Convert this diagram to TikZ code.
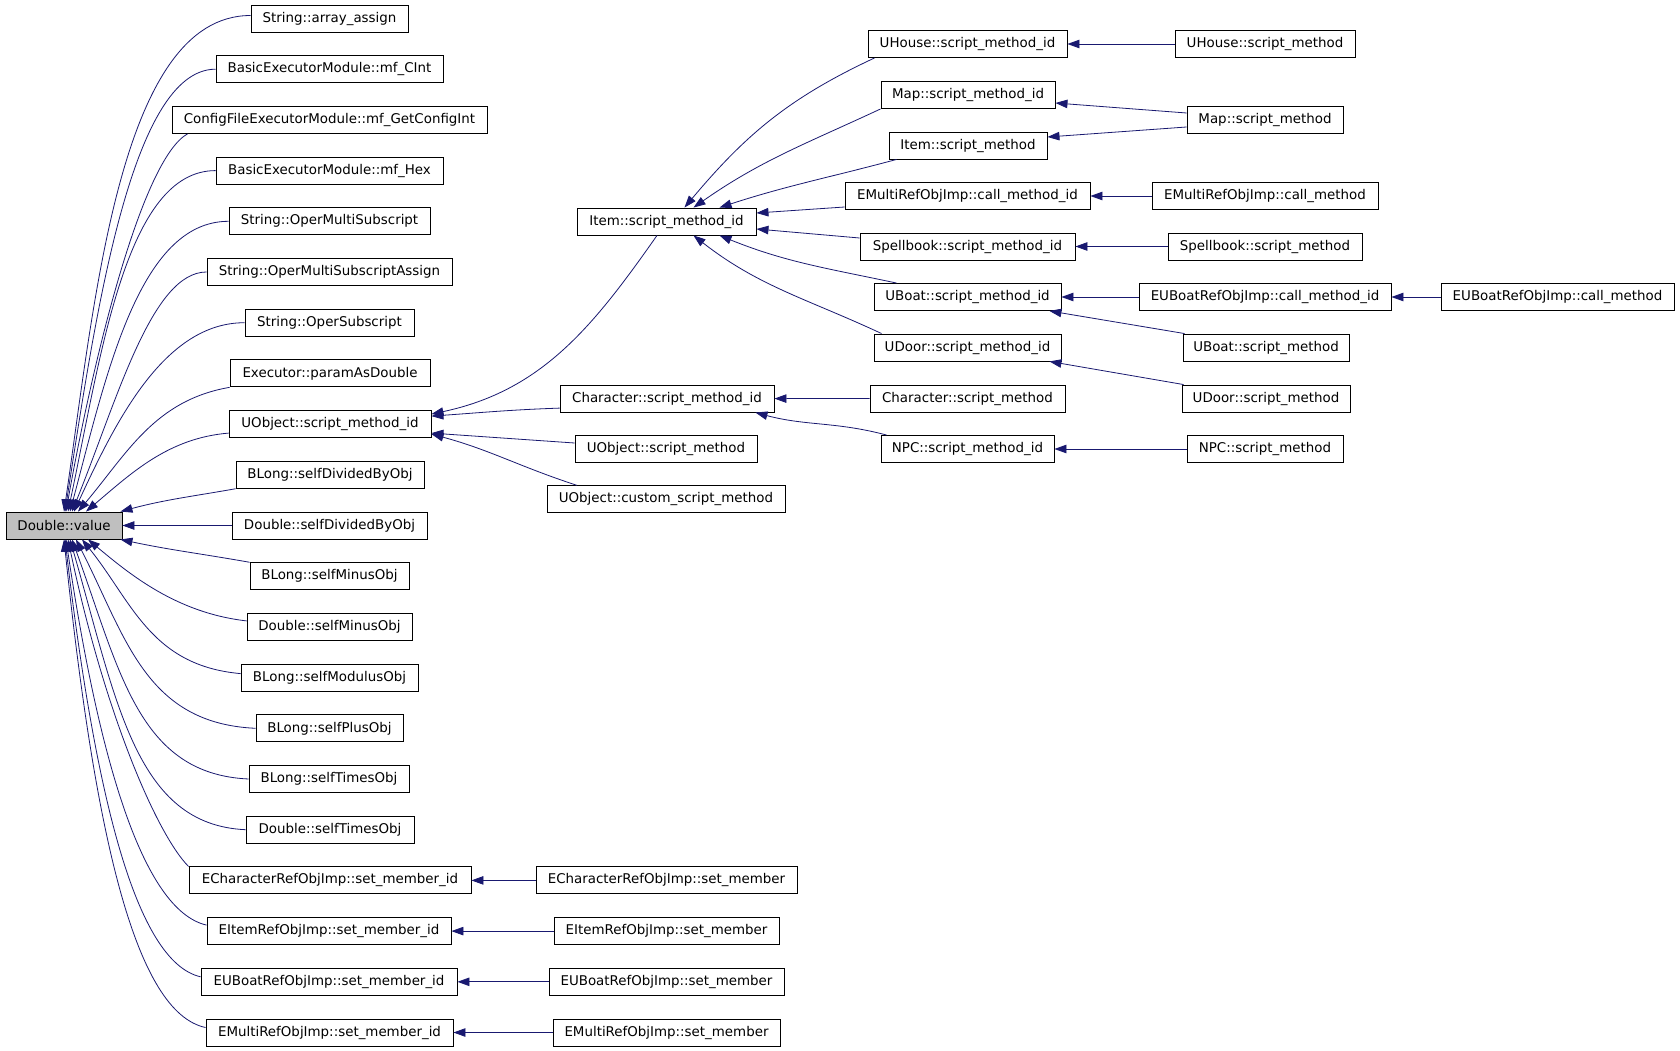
\documentclass[tikz,border=0pt]{standalone}
\usepackage{fontspec}
\setmainfont{DejaVu Sans}
\usetikzlibrary{arrows.meta}
\definecolor{edgeblue}{HTML}{191970}
\definecolor{dvgray}{HTML}{BFBFBF}
\begin{document}
\begin{tikzpicture}[x=1pt,y=-1pt,
  box/.style={draw=black, line width=0.9pt, fill=white, minimum height=27pt, inner sep=0pt,
    font=\fontsize{13.4}{16}\selectfont},
  edge/.style={draw=edgeblue, line width=0.8pt, -{Triangle[length=12pt,width=8.5pt]}}]
\useasboundingbox[fill=white] (0,0) rectangle (1680,1051);

% root
\node[box, fill=dvgray, minimum width=116] (dv) at (64,525.5) {Double::value};

% column 1
\node[box, minimum width=157] (a0) at (329.5,18.5) {String::array\_assign};
\node[box, minimum width=227] (a1) at (329.5,69.2) {BasicExecutorModule::mf\_CInt};
\node[box, minimum width=315] (a2) at (329.5,119.9) {ConfigFileExecutorModule::mf\_GetConfigInt};
\node[box, minimum width=227] (a3) at (329.5,170.6) {BasicExecutorModule::mf\_Hex};
\node[box, minimum width=201] (a4) at (329.5,221.3) {String::OperMultiSubscript};
\node[box, minimum width=245] (a5) at (329.5,272.0) {String::OperMultiSubscriptAssign};
\node[box, minimum width=169] (a6) at (329.5,322.7) {String::OperSubscript};
\node[box, minimum width=200] (a7) at (330,373.4) {Executor::paramAsDouble};
\node[box, minimum width=202] (a8) at (330,424.1) {UObject::script\_method\_id};
\node[box, minimum width=188] (a9) at (330,474.8) {BLong::selfDividedByObj};
\node[box, minimum width=195] (a10) at (329.5,525.5) {Double::selfDividedByObj};
\node[box, minimum width=159] (a11) at (329.5,576.2) {BLong::selfMinusObj};
\node[box, minimum width=165] (a12) at (329.5,626.9) {Double::selfMinusObj};
\node[box, minimum width=177] (a13) at (329.5,677.6) {BLong::selfModulusObj};
\node[box, minimum width=147] (a14) at (329.5,728.3) {BLong::selfPlusObj};
\node[box, minimum width=160] (a15) at (329,779.0) {BLong::selfTimesObj};
\node[box, minimum width=168] (a16) at (330,829.7) {Double::selfTimesObj};
\node[box, minimum width=282] (a17) at (330,880.4) {ECharacterRefObjImp::set\_member\_id};
\node[box, minimum width=244] (a18) at (329,931.1) {EItemRefObjImp::set\_member\_id};
\node[box, minimum width=256] (a19) at (329,981.8) {EUBoatRefObjImp::set\_member\_id};
\node[box, minimum width=247] (a20) at (329.5,1032.5) {EMultiRefObjImp::set\_member\_id};

% column 2
\node[box, minimum width=179] (bitem) at (666.5,221.5) {Item::script\_method\_id};
\node[box, minimum width=214] (bch) at (667,398.6) {Character::script\_method\_id};
\node[box, minimum width=182] (busm) at (666,449) {UObject::script\_method};
\node[box, minimum width=238] (bcust) at (666,499.3) {UObject::custom\_script\_method};
\node[box, minimum width=261] (becs) at (666.5,880.4) {ECharacterRefObjImp::set\_member};
\node[box, minimum width=225] (beis) at (666.5,931.1) {EItemRefObjImp::set\_member};
\node[box, minimum width=235] (beus) at (666.5,981.8) {EUBoatRefObjImp::set\_member};
\node[box, minimum width=227] (bems) at (666.5,1032.5) {EMultiRefObjImp::set\_member};

% column 3
\node[box, minimum width=199] (cuh) at (967.5,44) {UHouse::script\_method\_id};
\node[box, minimum width=174] (cmap) at (968,95) {Map::script\_method\_id};
\node[box, minimum width=158] (cism) at (968,145.5) {Item::script\_method};
\node[box, minimum width=245] (cemc) at (967.5,196) {EMultiRefObjImp::call\_method\_id};
\node[box, minimum width=215] (csp) at (967.5,246.5) {Spellbook::script\_method\_id};
\node[box, minimum width=187] (cub) at (967.5,297) {UBoat::script\_method\_id};
\node[box, minimum width=187] (cud) at (967.5,347.5) {UDoor::script\_method\_id};
\node[box, minimum width=195] (cchs) at (967.5,398.5) {Character::script\_method};
\node[box, minimum width=173] (cnpc) at (967.5,449) {NPC::script\_method\_id};

% column 4
\node[box, minimum width=180] (duh) at (1265,44) {UHouse::script\_method};
\node[box, minimum width=156] (dmap) at (1265,120) {Map::script\_method};
\node[box, minimum width=226] (demc) at (1265,196) {EMultiRefObjImp::call\_method};
\node[box, minimum width=194] (dsp) at (1265,246.5) {Spellbook::script\_method};
\node[box, minimum width=252] (deubc) at (1265,297) {EUBoatRefObjImp::call\_method\_id};
\node[box, minimum width=166] (dub) at (1266,347.5) {UBoat::script\_method};
\node[box, minimum width=168] (dud) at (1266,398.5) {UDoor::script\_method};
\node[box, minimum width=156] (dnpc) at (1265,449) {NPC::script\_method};

% column 5
\node[box, minimum width=233] (eeub) at (1557.5,297) {EUBoatRefObjImp::call\_method};

% edges into Double::value (top side)
\draw[edge] ([yshift=3pt]a0.west) .. controls +(-131,0) and +(31,-212) .. (dv.north);
\draw[edge] (a1.west) .. controls +(-85,0) and +(30,-193) .. ([xshift=1pt]dv.north);
\draw[edge] ([xshift=16pt]a2.south west) .. controls +(-45,25) and +(28,-158) .. ([xshift=2pt]dv.north);
\draw[edge] (a3.west) .. controls +(-90,0) and +(33,-156) .. ([xshift=4pt]dv.north);
\draw[edge] (a4.west) .. controls +(-90,0) and +(36,-135) .. ([xshift=6pt]dv.north);
\draw[edge] (a5.west) .. controls +(-55,0) and +(45,-111) .. ([xshift=8pt]dv.north);
\draw[edge] (a6.west) .. controls +(-80,0) and +(42,-91) .. ([xshift=10pt]dv.north);
\draw[edge] (a7.south west) .. controls +(-75,13) and +(49,-58) .. ([xshift=14pt]dv.north);
\draw[edge] ([yshift=-9pt]a8.west) .. controls +(-60,5) and +(46,-39) .. ([xshift=22pt]dv.north);
\draw[edge] (a9.south west) to[out=190,in=15] ([xshift=-2pt]dv.north east);
% middle
\draw[edge] (a10.west) -- (dv.east);
% bottom side
\draw[edge] (a11.north west) to[out=170,in=-12] ([xshift=-2pt]dv.south east);
\draw[edge] ([yshift=6pt]a12.west) .. controls +(-70,-8) and +(42,35) .. ([xshift=24pt]dv.south);
\draw[edge] ([yshift=4pt]a13.west) .. controls +(-90,-8) and +(50,62) .. ([xshift=18pt]dv.south);
\draw[edge] (a14.west) .. controls +(-110,-5) and +(50,98) .. ([xshift=12pt]dv.south);
\draw[edge] (a15.west) .. controls +(-110,-5) and +(48,132) .. ([xshift=8pt]dv.south);
\draw[edge] (a16.west) .. controls +(-110,-5) and +(47,163) .. ([xshift=6pt]dv.south);
\draw[edge] (a17.north west) .. controls +(-30,-30) and +(38,180) .. ([xshift=4pt]dv.south);
\draw[edge] ([yshift=6pt]a18.west) .. controls +(-65,-15) and +(32,215) .. ([xshift=2pt]dv.south);
\draw[edge] ([yshift=5pt]a19.west) .. controls +(-65,-15) and +(30,255) .. ([xshift=1pt]dv.south);
\draw[edge] ([yshift=5pt]a20.west) .. controls +(-70,-15) and +(31,298) .. (dv.south);

% edges into UObject::script_method_id
\draw[edge] ([xshift=-9.5pt]bitem.south) to[out=-125,in=12] ([yshift=10pt]a8.east);
\draw[edge] ([yshift=-9.5pt]bch.west) to[out=182,in=4] ([yshift=8pt]a8.east);
\draw[edge] ([yshift=6pt]busm.west) -- ([yshift=-9pt]a8.east);
\draw[edge] ([xshift=-89pt]bcust.north) to[out=162,in=-15] ([yshift=-10pt]a8.east);

% edges into Item::script_method_id
\draw[edge] ([xshift=7pt]cuh.south west) to[out=205,in=50] ([xshift=18pt]bitem.north);
\draw[edge] (cmap.south west) to[out=205,in=35] ([xshift=27pt]bitem.north);
\draw[edge] ([xshift=8pt]cism.south west) to[out=195,in=18] ([xshift=53pt]bitem.north);
\draw[edge] ([yshift=-11pt]cemc.west) -- ([yshift=8.5pt]bitem.east);
\draw[edge] ([yshift=8.5pt]csp.west) -- ([yshift=-7.5pt]bitem.east);
\draw[edge] ([xshift=23pt]cub.north west) to[out=168,in=-22] ([xshift=53pt]bitem.south);
\draw[edge] ([xshift=8pt]cud.north west) to[out=155,in=-38] ([xshift=27pt]bitem.south);

% edges into Character::script_method_id
\draw[edge] (cchs.west) -- (bch.east);
\draw[edge] ([xshift=6pt]cnpc.north west) to[out=165,in=-15] ([xshift=-19pt]bch.south east);

% column 4 to column 3
\draw[edge] (duh.west) -- (cuh.east);
\draw[edge] ([yshift=7pt]dmap.west) -- ([yshift=-8pt]cmap.east);
\draw[edge] ([yshift=-7pt]dmap.west) -- ([yshift=8.5pt]cism.east);
\draw[edge] (demc.west) -- (cemc.east);
\draw[edge] (dsp.west) -- (csp.east);
\draw[edge] (deubc.west) -- (cub.east);
\draw[edge] ([xshift=2pt]dub.north west) -- ([xshift=-12pt]cub.south east);
\draw[edge] ([xshift=2pt]dud.north west) -- ([xshift=-12pt]cud.south east);
\draw[edge] (dnpc.west) -- (cnpc.east);
\draw[edge] (eeub.west) -- (deubc.east);

% set_member edges
\draw[edge] (becs.west) -- (a17.east);
\draw[edge] (beis.west) -- (a18.east);
\draw[edge] (beus.west) -- (a19.east);
\draw[edge] (bems.west) -- (a20.east);
\end{tikzpicture}
\end{document}
